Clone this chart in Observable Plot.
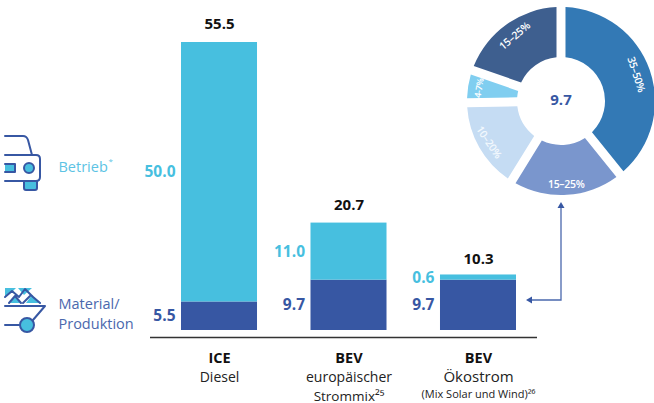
<!DOCTYPE html>
<html><head><meta charset="utf-8">
<script src="https://cdn.jsdelivr.net/npm/d3@7"></script>
<script src="https://cdn.jsdelivr.net/npm/@observablehq/plot@0.6"></script>
<style>html,body{margin:0;padding:0;background:#fff}svg{display:block}</style>
</head><body><div id="c"></div>
<script>
const categories = ["ICE", "BEV eu", "BEV oeko"];
const material = [5.5, 9.7, 9.7];
const betrieb = [50.0, 11.0, 0.6];
const betriebDrawn = [50.0, 11.0, 1.0];
const totals = [55.5, 20.7, 10.3];
const headLabels = ["ICE", "BEV", "BEV"];
const subLabels = ["Diesel", "europäischer", "Ökostrom"];
const subLabels2 = ["", "Strommix²⁵", ""];
const subLabels3 = ["", "", "(Mix Solar und Wind)²⁶"];
const donutLabels = ["35–50%", "15–25%", "10–20%", "4-7%", "15–25%"];
const donutValues = [39.2, 19.6, 15.9, 5.6, 19.7];
const donutColors = ["#3379b5", "#7a96cd", "#c5dcf3", "#80cef0", "#3e5f8f"];
const donutRotate = [72, 0, 56, -80, -40];
const donutRadius = [80, 83, 83, 83, 80];
const donutCenterValue = "9.7";
const LIGHT = "#47bfdf", DARK = "#3757a3", FONT = "'Open Sans', sans-serif";

const rows = categories.flatMap((c, i) => [
  {c, part: "m", v: material[i], color: DARK},
  {c, part: "b", v: betriebDrawn[i], color: LIGHT}
]);

function donut() {
  const cx = 561, cy = 101;
  const g = d3.create("svg:g");
  const pie = d3.pie().sort(null)(donutValues);
  const arc = d3.arc().innerRadius(44).outerRadius(94).padRadius(100).padAngle(0.09);
  pie.forEach((p, i) => {
    g.append("path").attr("transform", `translate(${cx},${cy})`)
      .attr("d", arc({startAngle: p.startAngle, endAngle: p.endAngle}))
      .attr("fill", donutColors[i]);
    const a = (p.startAngle + p.endAngle) / 2, r = donutRadius[i];
    g.append("text")
      .attr("transform", `translate(${cx + r * Math.sin(a)},${cy - r * Math.cos(a)}) rotate(${donutRotate[i]})`)
      .attr("text-anchor", "middle").attr("dy", "0.35em")
      .attr("font-family", FONT).attr("font-size", i === 3 ? 9 : 10.5)
      .attr("font-weight", 600).attr("letter-spacing", "-0.3").attr("fill", i === 2 ? "#f2f8fd" : "#fff")
      .text(donutLabels[i]);
  });
  g.append("text").attr("x", cx).attr("y", cy - 1).attr("dy", "0.35em")
    .attr("text-anchor", "middle").attr("font-family", FONT).attr("font-size", 15)
    .attr("font-weight", 700).attr("fill", DARK).text(donutCenterValue);
  return g.node();
}

function connector() {
  const g = d3.create("svg:g").attr("fill", "none").attr("stroke", "#4a68ad").attr("stroke-width", 1.3);
  g.append("path").attr("d", "M561 207V300H530");
  g.append("path").attr("d", "M561 202l-3.500 6h7z").attr("fill", "#3757a3").attr("stroke", "none");
  g.append("path").attr("d", "M526 300l6 -3.500v7z").attr("fill", "#3757a3").attr("stroke", "none");
  return g.node();
}

function icons() {
  const g = d3.create("svg:g").attr("fill", "none").attr("stroke", DARK)
    .attr("stroke-width", 2).attr("stroke-linejoin", "round").attr("stroke-linecap", "round");
  // car
  g.append("path").attr("fill", LIGHT).attr("d", "M24 181h13v7a2 2 0 0 1-2 2h-9a2 2 0 0 1-2-2z");
  g.append("path").attr("d", "M5 136h18c2 0 4 1 5 4l4 15");
  g.append("path").attr("d", "M5 155h31c2.500 0 4 1.500 4 4v18c0 2.500-1.500 4-4 4H5");
  g.append("path").attr("fill", LIGHT).attr("d", "M5 164h10v8H5");
  g.append("circle").attr("cx", 29).attr("cy", 168).attr("r", 5).attr("fill", LIGHT);
  // material
  g.append("path").attr("fill", LIGHT).attr("stroke", "none").attr("d", "M5 288h11l-4 4-7 5zM18 288h14l-8 7zM10 303l5-7 6 7zM26 303l6-8 9 8z");
  g.append("path").attr("d", "M5 297l7-6 7 6 6-8 8 8 7 6M9 303l6-7 6 7M23 303l8-8");
  g.append("path").attr("d", "M5 306h40l-12 14M5 325h14");
  g.append("circle").attr("cx", 27).attr("cy", 325).attr("r", 7).attr("fill", LIGHT);
  return g.node();
}

const plot = Plot.plot({
  width: 654, height: 403,
  margin: 0,
  style: {background: "#fff", fontFamily: FONT},
  x: {domain: categories, range: [181, 516], paddingInner: 0.413, paddingOuter: 0, round: false, axis: null},
  y: {domain: [0, 55.5], range: [330, 42], axis: null},
  marks: [
    Plot.barY(rows, {x: "c", y: "v", fill: "color", order: null}),
    Plot.text(totals, {x: categories, y: totals, dy: -18, text: d => d.toFixed(1), fontSize: 15, fontWeight: 700, fill: "#111"}),
    Plot.text(betrieb, {x: categories, y: (d, i) => material[i] + (i === 2 ? 0.4 : d / 2), dx: -44, textAnchor: "end", text: d => d.toFixed(1), fontSize: 15.500, fontWeight: 700, fill: LIGHT}),
    Plot.text(material, {x: categories, y: d => d / 2, dx: -44, textAnchor: "end", text: d => d.toFixed(1), fontSize: 15.500, fontWeight: 700, fill: DARK}),
    Plot.text(headLabels, {x: categories, frameAnchor: "bottom", dy: -41, fontSize: 14.500, fontWeight: 700, fill: "#111"}),
    Plot.text(subLabels, {x: categories, frameAnchor: "bottom", dy: -22, fontSize: (d, i) => i === 2 ? 15 : 14, fill: "#222"}),
    Plot.text(subLabels2, {x: categories, frameAnchor: "bottom", dy: -3, fontSize: 13.500, fill: "#222"}),
    Plot.text(subLabels3, {x: categories, frameAnchor: "bottom", dy: -6, fontSize: 11, fill: "#222"}),
    Plot.text(["Betrieb"], {frameAnchor: "top-left", dx: 58, dy: 161, fontSize: 14.500, fill: "#5cc3e4"}),
    Plot.text(["*"], {frameAnchor: "top-left", dx: 108, dy: 158, fontSize: 8, fill: "#5cc3e4"}),
    Plot.text(["Material/"], {frameAnchor: "top-left", dx: 58, dy: 298, fontSize: 14.500, fill: "#4a68ad"}),
    Plot.text(["Produktion"], {frameAnchor: "top-left", dx: 58, dy: 318, fontSize: 14.500, fill: "#4a68ad"}),
    donut, connector, icons,
    () => d3.create("svg:line").attr("x1", 150).attr("x2", 537).attr("y1", 337.5).attr("y2", 337.5).attr("stroke", "#333").attr("stroke-width", 1.3).node()
  ]
});
document.getElementById("c").append(plot);
</script></body></html>
